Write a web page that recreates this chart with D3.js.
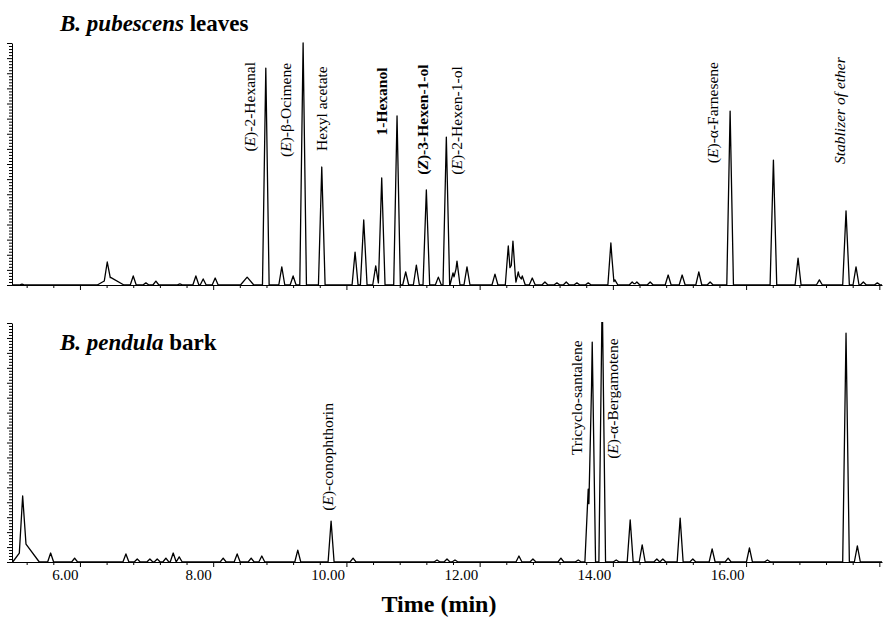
<!DOCTYPE html>
<html lang="en">
<head>
<meta charset="UTF-8">
<title>Chromatograms</title>
<script src="https://d3js.org/d3.v7.min.js"></script>
<style>
  body { margin: 0; background: #fff; }
  svg { display: block; font-family: "Liberation Serif", "DejaVu Serif", serif; }
</style>
</head>
<body>
<div class="chart"></div>
<script>
// retention time (min) and peak height (0-80 units)
const topTimes = [5.13, 6.41, 6.80, 6.99, 7.14, 7.50, 7.74, 7.85, 8.03, 8.79, 9.03, 9.20, 9.35, 9.63,
  10.13, 10.26, 10.44, 10.53, 10.76, 10.89, 11.05, 11.20, 11.38, 11.50, 11.60, 11.66, 11.81,
  12.23, 12.43, 12.50, 12.58, 12.64, 12.79, 12.98, 13.16, 13.30, 13.46, 13.63, 13.97, 14.03,
  14.29, 14.36, 14.56, 14.83, 15.04, 15.29, 15.46, 15.76, 16.41, 16.78, 17.10, 17.50, 17.65, 17.76, 17.97]
const topHeights = [0.3, 7.6, 3.0, 0.7, 1.3, 0.4, 3.0, 2.0, 2.3, 71.7, 6.0, 3.0, 80, 39.0,
  10.9, 21.5, 6.3, 35.4, 55.9, 4.3, 6.6, 31.4, 2.6, 48.9, 4.0, 7.9, 6.0,
  3.6, 12.9, 14.5, 4.3, 3.0, 2.3, 1.0, 0.7, 1.0, 0.7, 0.7, 13.9, 1.7,
  1.0, 1.0, 1.0, 3.3, 3.3, 4.3, 1.0, 57.5, 41.3, 8.9, 1.7, 24.5, 6.0, 1.0, 0.7]
// broad / tailing humps
const topBroadTimes = [6.46, 8.51]
const topBroadHeights = [2.5, 2.6]
const topBroadWidths = [0.2, 0.1]

const botTimes = [5.14, 5.56, 5.92, 6.69, 6.86, 7.05, 7.16, 7.29, 7.40, 7.49, 8.15, 8.36, 8.57, 8.73,
  9.27, 9.77, 10.10, 11.36, 11.51, 11.63, 12.59, 12.80, 13.22, 13.48, 13.63, 13.69, 13.84,
  14.05, 14.26, 14.44, 14.66, 14.75, 15.01, 15.20, 15.49, 15.73, 16.05, 16.32, 17.50, 17.67]
const botHeights = [22.1, 3.0, 1.3, 2.7, 1.0, 1.0, 1.0, 1.3, 3.0, 1.7, 1.3, 2.7, 1.3, 2.0,
  4.0, 13.7, 1.3, 0.7, 1.0, 0.7, 2.0, 1.0, 1.3, 0.7, 24.4, 73.6, 90,
  0.7, 14.1, 5.7, 1.0, 1.0, 14.7, 1.0, 4.4, 1.3, 4.7, 0.7, 76.6, 5.4]
const botBroadTimes = [5.19]
const botBroadHeights = [6]
const botBroadWidths = [0.2]

// labels: text (*x* = italic part), time and level where the top of the text sits
const topLabels = ['(*E*)-2-Hexanal', '(*E*)-β-Ocimene', 'Hexyl acetate', '1-Hexanol',
  '(*Z*)-3-Hexen-1-ol', '(*E*)-2-Hexen-1-ol', '(*E*)-α-Farnesene', '*Stablizer of ether*']
const topLabelTimes = [8.55, 9.08, 9.62, 10.53, 11.14, 11.65, 15.50, 17.41]
const topLabelLevels = [73.7, 73.4, 72.3, 71.9, 72.9, 72.3, 73.7, 75.3]
const boldLabels = ['1-Hexanol', '(*Z*)-3-Hexen-1-ol']

const botLabels = ['(*E*)-conophthorin', 'Tricyclo-santalene', '(*E*)-α-Bergamotene']
const botLabelTimes = [9.72, 13.45, 14.00]
const botLabelLevels = [53.2, 74.2, 74.9]

const xDomain = [4.98, 18.04]
const xTicks = d3.range(13, 46).map(i => +(i * 0.4).toFixed(1))
const xTickLabels = [6, 8, 10, 12, 14, 16]

const width = 890, height = 620
const svg = d3.select('.chart').append('svg')
  .attr('width', width).attr('height', height)

const x = d3.scaleLinear().domain(xDomain).range([12, 882])
const isMajor = d => Math.abs(d / 2 - Math.round(d / 2)) < 1e-6

function buildTrace(times, heights, bTimes, bHeights, bWidths) {
  const w = 0.045
  const peaks = times.map((t, i) => ({ t, h: heights[i], w: heights[i] > 20 ? 0.05 : w }))
    .concat(bTimes.map((t, i) => ({ t, h: bHeights[i], w: bWidths[i] })))
  const pts = [xDomain[0], xDomain[1]]
  peaks.forEach(p => pts.push(p.t - p.w, p.t, p.t + p.w))
  pts.sort(d3.ascending)
  return pts.map(p => [p, d3.max(peaks, k => Math.max(0, k.h * (1 - Math.abs(p - k.t) / k.w)))])
}

function addLabel(g, y, txt, t, level) {
  const el = g.append('text')
    .attr('transform', `translate(${x(t)},${y(level)}) rotate(-90)`)
    .attr('text-anchor', 'end')
    .attr('dy', '0.35em')
    .style('font-size', '15.5px')
    .style('font-weight', boldLabels.includes(txt) ? 'bold' : 'normal')
  txt.split('*').forEach((part, i) => {
    if (!part) return
    el.append('tspan').text(part).style('font-style', i % 2 ? 'italic' : 'normal')
  })
}

function drawPanel(id, y0, y1, times, heights, bT, bH, bW, labels, lTimes, lLevels, showTickLabels) {
  const y = d3.scaleLinear().domain([0, 80]).range([y1, y0])
  const g = svg.append('g')

  g.append('clipPath').attr('id', id).append('rect')
    .attr('x', 12).attr('y', y0 - 1).attr('width', 872).attr('height', y1 - y0 + 2)

  const line = d3.line().x(d => x(d[0])).y(d => y(d[1]))
  g.append('path')
    .attr('d', line(buildTrace(times, heights, bT, bH, bW)))
    .attr('clip-path', `url(#${id})`)
    .attr('fill', 'none')
    .attr('stroke', '#000')
    .attr('stroke-width', 1.3)
    .attr('stroke-linejoin', 'round')

  // y axis with dense ticks
  const yAxis = g.append('g')
    .attr('transform', `translate(12,0)`)
    .call(d3.axisLeft(y).tickValues(d3.range(0, 81)).tickSize(3).tickSizeOuter(0).tickFormat(''))
  yAxis.selectAll('.tick line').filter(d => d % 5 === 0).attr('x2', -5)

  // x axis
  const xAxis = g.append('g')
    .attr('transform', `translate(0,${y1})`)
    .call(d3.axisBottom(x).tickValues(xTicks).tickSize(3).tickSizeOuter(0)
      .tickFormat(d => showTickLabels && xTickLabels.includes(d) ? d.toFixed(2) : ''))
  xAxis.selectAll('.tick line').filter(isMajor).attr('y2', 5)
  xAxis.selectAll('.tick text')
    .attr('text-anchor', 'end').attr('x', -2).attr('y', 7.5)
    .style('font-family', '"Liberation Serif", serif').style('font-size', '15px').attr('fill', '#000')
  g.selectAll('.domain, .tick line').attr('stroke', '#000')

  labels.forEach((txt, i) => addLabel(g, y, txt, lTimes[i], lLevels[i]))
}

drawPanel('clipTop', 43, 285, topTimes, topHeights, topBroadTimes, topBroadHeights, topBroadWidths,
  topLabels, topLabelTimes, topLabelLevels, false)
drawPanel('clipBot', 323, 562, botTimes, botHeights, botBroadTimes, botBroadHeights, botBroadWidths,
  botLabels, botLabelTimes, botLabelLevels, true)

// titles
const t1 = svg.append('text').attr('x', 60).attr('y', 31)
  .style('font-size', '23px').style('font-weight', 'bold')
t1.append('tspan').text('B. pubescens').style('font-style', 'italic')
t1.append('tspan').text(' leaves')

const t2 = svg.append('text').attr('x', 60).attr('y', 350)
  .style('font-size', '23px').style('font-weight', 'bold')
t2.append('tspan').text('B. pendula').style('font-style', 'italic')
t2.append('tspan').text(' bark')

svg.append('text').attr('x', 439).attr('y', 612).attr('text-anchor', 'middle')
  .style('font-size', '24px').style('font-weight', 'bold')
  .text('Time (min)')
</script>
</body>
</html>
